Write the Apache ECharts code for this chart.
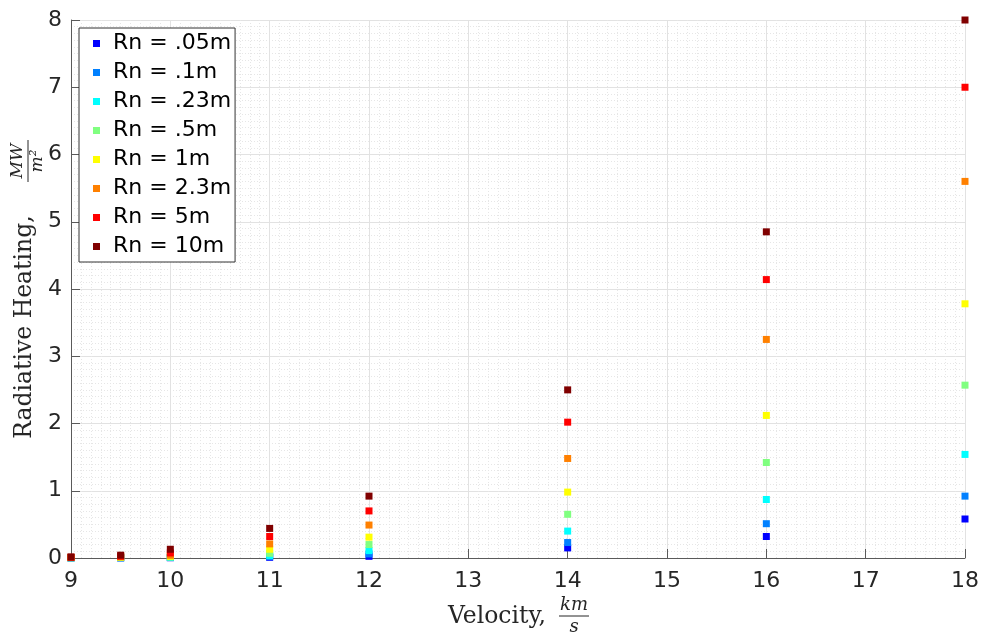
<!DOCTYPE html>
<html>
<head>
<meta charset="utf-8">
<script src="https://cdn.jsdelivr.net/npm/echarts@6/dist/echarts.min.js"></script>
<style>
html,body{margin:0;padding:0;background:#fff;}
#chart{width:985px;height:638px;}
</style>
</head>
<body>
<div id="chart"></div>
<script>
// ---- data ----
const velocity = [9, 9.5, 10, 11, 12, 14, 16, 18];
const seriesNames = ['Rn = .05m', 'Rn = .1m', 'Rn = .23m', 'Rn = .5m', 'Rn = 1m', 'Rn = 2.3m', 'Rn = 5m', 'Rn = 10m'];
const rn005 = [0.001, 0.002, 0.004, 0.01, 0.025, 0.15, 0.32, 0.58];
const rn01  = [0.002, 0.003, 0.007, 0.02, 0.06, 0.23, 0.51, 0.92];
const rn023 = [0.003, 0.005, 0.01, 0.035, 0.11, 0.40, 0.87, 1.54];
const rn05  = [0.004, 0.008, 0.015, 0.07, 0.20, 0.65, 1.42, 2.57];
const rn1   = [0.006, 0.012, 0.025, 0.13, 0.31, 0.98, 2.12, 3.78];
const rn23  = [0.008, 0.018, 0.04, 0.21, 0.49, 1.48, 3.25, 5.60];
const rn5   = [0.011, 0.027, 0.075, 0.32, 0.70, 2.02, 4.14, 7.00];
const rn10  = [0.016, 0.042, 0.13, 0.44, 0.92, 2.50, 4.85, 8.00];
const seriesValues = [rn005, rn01, rn023, rn05, rn1, rn23, rn5, rn10];
const colors = ['#0000ff', '#0080ff', '#00ffff', '#80ff80', '#ffff00', '#ff8000', '#ff0000', '#800000'];
const xTitle = 'Velocity,';
const yTitle = 'Radiative Heating,';

const chart = echarts.init(document.getElementById('chart'), null, {renderer: 'canvas'});
const axisColor = '#5a5a5a';
const tickFont = {fontFamily: 'DejaVu Sans', fontSize: 22, color: '#262626'};

const series = seriesNames.map((name, i) => ({
  name: name,
  type: 'scatter',
  symbol: 'rect',
  symbolSize: 7,
  itemStyle: {color: colors[i], opacity: 1},
  data: velocity.map((v, j) => [v, seriesValues[i][j]]),
  z: 3 + i,
  silent: true
}));

const option = {
  animation: false,
  backgroundColor: '#ffffff',
  grid: {left: 71, right: 20, top: 20, bottom: 80, containLabel: false},
  legend: {
    left: 79, top: 28,
    orient: 'vertical',
    icon: 'rect',
    itemWidth: 7, itemHeight: 7, itemGap: 0,
    padding: [1, 4, 1, 14],
    backgroundColor: '#ffffff',
    borderColor: '#333333', borderWidth: 1,
    textStyle: {fontFamily: 'DejaVu Sans', fontSize: 22, color: '#000', lineHeight: 29, padding: [0, 0, 0, 8]},
    data: seriesNames,
    selectedMode: false
  },
  xAxis: {
    type: 'value', min: 9, max: 18, interval: 1,
    name: xTitle, nameLocation: 'middle', nameGap: 47,
    nameTextStyle: {fontFamily: 'DejaVu Serif', fontSize: 23.5, color: '#262626', padding: [0, 42, 0, 0]},
    axisLine: {show: true, onZero: false, lineStyle: {color: axisColor, width: 1}},
    axisTick: {show: true, inside: true, length: 9, lineStyle: {color: axisColor}},
    axisLabel: Object.assign({margin: 12}, tickFont),
    splitLine: {show: true, lineStyle: {color: '#e2e2e2', width: 1}},
    minorTick: {show: false, splitNumber: 10},
    minorSplitLine: {show: true, lineStyle: {color: '#e6e6e6', width: 1, type: [1, 2]}}
  },
  yAxis: {
    type: 'value', min: 0, max: 8, interval: 1,
    name: yTitle, nameLocation: 'middle', nameGap: 32, nameRotate: 90,
    nameTextStyle: {fontFamily: 'DejaVu Serif', fontSize: 23.5, color: '#262626', padding: [0, 76, 0, 0]},
    axisLine: {show: true, onZero: false, lineStyle: {color: axisColor, width: 1}},
    axisTick: {show: true, inside: true, length: 9, lineStyle: {color: axisColor}},
    axisLabel: Object.assign({margin: 9}, tickFont),
    splitLine: {show: true, lineStyle: {color: '#e2e2e2', width: 1}},
    minorTick: {show: false, splitNumber: 10},
    minorSplitLine: {show: true, lineStyle: {color: '#e6e6e6', width: 1, type: [1, 2]}}
  },
  graphic: [
    {
      type: 'group', x: 574, y: 615,
      children: [
        {type: 'text', x: 0, y: -10, style: {text: 'km', font: 'italic 18px "DejaVu Serif"', fill: '#262626', align: 'center', verticalAlign: 'middle'}},
        {type: 'line', shape: {x1: -15, y1: 1, x2: 15, y2: 1}, style: {stroke: '#262626', lineWidth: 1}},
        {type: 'text', x: 0, y: 12, style: {text: 's', font: 'italic 18px "DejaVu Serif"', fill: '#262626', align: 'center', verticalAlign: 'middle'}}
      ]
    },
    {
      type: 'group', x: 27, y: 161, rotation: Math.PI / 2,
      children: [
        {type: 'text', x: 0, y: -9, style: {text: 'MW', font: 'italic 17px "DejaVu Serif"', fill: '#262626', align: 'center', verticalAlign: 'middle'}},
        {type: 'line', shape: {x1: -21, y1: 1, x2: 21, y2: 1}, style: {stroke: '#262626', lineWidth: 1}},
        {type: 'text', x: 0, y: 11, style: {text: 'm²', font: 'italic 17px "DejaVu Serif"', fill: '#262626', align: 'center', verticalAlign: 'middle'}}
      ]
    }
  ],
  series: series
};
chart.setOption(option);
</script>
</body>
</html>
